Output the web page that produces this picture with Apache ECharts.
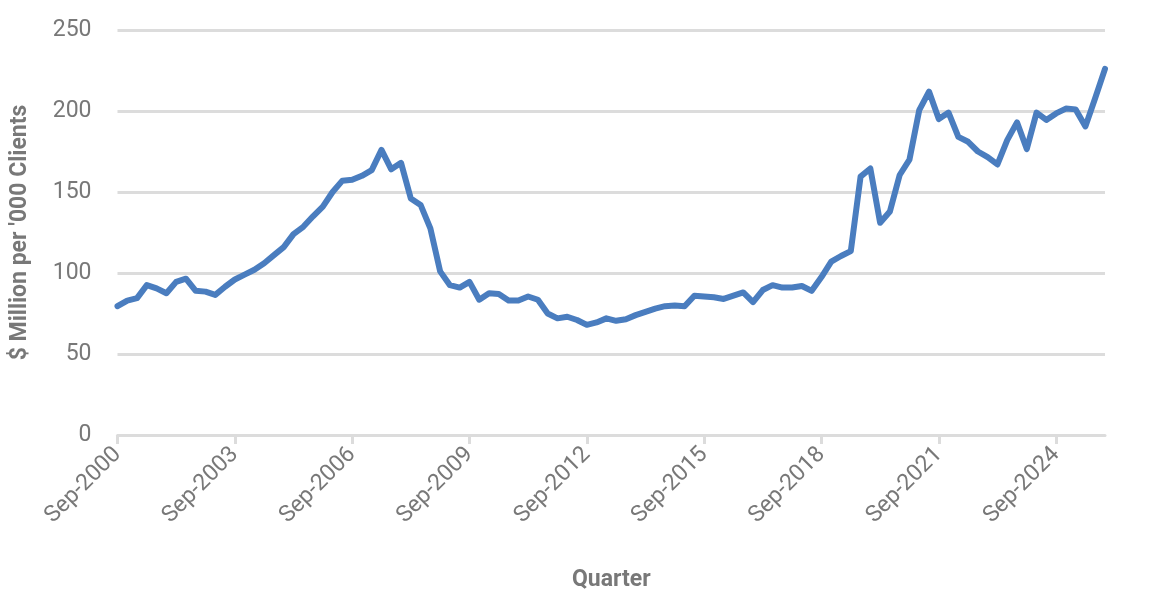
<!DOCTYPE html>
<html>
<head>
<meta charset="utf-8">
<script src="https://cdn.jsdelivr.net/npm/echarts@6/dist/echarts.min.js"></script>
<style>
  html, body { margin: 0; padding: 0; background: #fff; }
  #chart { width: 1160px; height: 608px; }
</style>
</head>
<body>
<div id="chart"></div>
<script>
// --- DATEN ---
const monthNames = ['Sep', 'Dec', 'Mar', 'Jun'];
const startYear = 2000;
const quarterCount = 102; // Sep-2000 .. Dec-2025

// $ Million per '000 clients, quarterly
const values = [
  79.5, 83, 84.5, 92.5, 90.5, 87.5, 94.5, 96.5, 89, 88.5,
  86.5, 91.5, 96, 99, 102, 106, 111, 116, 124, 128.5,
  135, 141, 150, 157, 157.5, 160, 163.5, 176, 164, 168,
  146, 142, 127.5, 101, 92.5, 91, 94.5, 83.5, 87.5, 87,
  83, 83, 85.5, 83.5, 75, 72, 73, 71, 68, 69.5,
  72, 70.5, 71.5, 74, 76, 78, 79.5, 80, 79.5, 86,
  85.5, 85, 84, 86, 88, 82, 89.5, 92.5, 91, 91,
  92, 89, 97.5, 107, 110.5, 113.5, 159.5, 164.5, 131, 138,
  160.5, 170, 200.5, 212, 195, 199, 184, 181, 175, 171.5,
  167, 182, 193, 176.5, 199, 194.5, 198.5, 201.5, 201, 190.5,
  208, 226
];

const yTicks = { min: 0, max: 250, interval: 50 };

// Quartalsbeschriftungen
const quarters = [];
for (let i = 0; i < quarterCount; i++) {
    const m = monthNames[i % 4];
    const y = startYear + Math.floor((i + 3) / 4);
    quarters.push(m + '-' + y);
}

// --- CHART ---
const chart = echarts.init(document.getElementById('chart'));
const grey = '#787878';
const gridGrey = '#dcdcdc';

chart.setOption({
    backgroundColor: '#fff',
    animation: false,
    textStyle: { fontFamily: 'Roboto' },
    grid: { left: 117.5, right: 55, top: 30, bottom: 173 },
    xAxis: {
        type: 'category',
        data: quarters,
        boundaryGap: false,
        name: 'Quarter',
        nameLocation: 'middle',
        nameGap: 134,
        nameTextStyle: { color: grey, fontSize: 23, fontWeight: 'bold' },
        axisLine: { lineStyle: { color: gridGrey, width: 3 } },
        axisTick: { interval: 11, length: 9, lineStyle: { color: gridGrey, width: 3 } },
        axisLabel: { interval: 11, rotate: 45, color: grey, fontSize: 23, margin: 16 },
        splitLine: { show: false }
    },
    yAxis: {
        type: 'value',
        min: yTicks.min,
        max: yTicks.max,
        interval: yTicks.interval,
        name: "$ Million per '000 Clients",
        nameLocation: 'middle',
        nameRotate: 90,
        nameGap: 86,
        nameTextStyle: { color: grey, fontSize: 23, fontWeight: 'bold' },
        axisLine: { show: false },
        axisTick: { show: false },
        axisLabel: { color: grey, fontSize: 23, margin: 26 },
        splitLine: { lineStyle: { color: gridGrey, width: 3 } }
    },
    series: [{
        name: 'Value',
        type: 'line',
        data: values,
        symbol: 'none',
        color: '#4a7dbf',
        lineStyle: { width: 6, color: '#4a7dbf', cap: 'round', join: 'round' }
    }]
});

window.addEventListener('resize', () => chart.resize());
</script>
</body>
</html>
